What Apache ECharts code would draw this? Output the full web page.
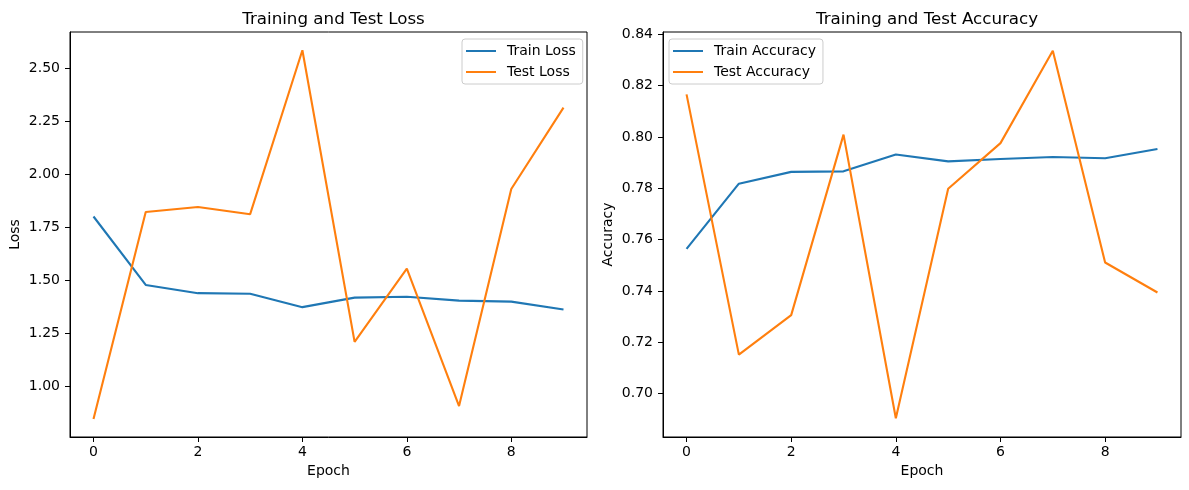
<!DOCTYPE html>
<html>
<head>
<meta charset="utf-8">
<script src="https://cdn.jsdelivr.net/npm/echarts@6/dist/echarts.min.js"></script>
<style>html,body{margin:0;padding:0;background:#fff;}#c{width:1189px;height:490px;}</style>
</head>
<body>
<div id="c"></div>
<script>
const epochs = [0, 1, 2, 3, 4, 5, 6, 7, 8, 9];
const trainLoss = [1.800, 1.477, 1.438, 1.435, 1.372, 1.417, 1.421, 1.403, 1.398, 1.361];
const testLoss = [0.844, 1.821, 1.845, 1.811, 2.585, 1.208, 1.554, 0.905, 1.930, 2.314];
const trainAcc = [0.7564, 0.7818, 0.7864, 0.7866, 0.7932, 0.7905, 0.7914, 0.7922, 0.7917, 0.7953];
const testAcc = [0.8166, 0.7152, 0.7306, 0.8009, 0.6904, 0.7798, 0.7976, 0.8336, 0.7511, 0.7394];
const xTicks = [0, 2, 4, 6, 8];
const lossTicks = [1.00, 1.25, 1.50, 1.75, 2.00, 2.25, 2.50];
const accTicks = [0.70, 0.72, 0.74, 0.76, 0.78, 0.80, 0.82, 0.84];

const FONT = 'DejaVu Sans';
const BLUE = '#1f77b4', ORANGE = '#ff7f0e';
const pairs = (ys) => epochs.map((e, i) => [e, ys[i]]);

function xAxis(gi) {
  return {
    type: 'value', gridIndex: gi, min: -0.45, max: 9.45,
    name: 'Epoch', nameLocation: 'middle', nameGap: 27,
    nameTextStyle: {fontFamily: FONT, fontSize: 14, color: '#000'},
    axisLine: {show: true, onZero: false, lineStyle: {color: '#000', width: 1}},
    axisTick: {show: true, inside: false, length: 5, lineStyle: {color: '#000'}, customValues: xTicks},
    axisLabel: {show: true, margin: 8, fontFamily: FONT, fontSize: 14, color: '#000', customValues: xTicks,
      formatter: v => String(v)},
    splitLine: {show: false}
  };
}
function yAxis(gi, name, min, max, ticks) {
  return {
    type: 'value', gridIndex: gi, min: min, max: max,
    name: name, nameLocation: 'middle', nameGap: 48, nameRotate: 90,
    nameTextStyle: {fontFamily: FONT, fontSize: 14, color: '#000'},
    axisLine: {show: true, onZero: false, lineStyle: {color: '#000', width: 1}},
    axisTick: {show: true, inside: false, length: 5, lineStyle: {color: '#000'}, customValues: ticks},
    axisLabel: {show: true, margin: 10, fontFamily: FONT, fontSize: 14, color: '#000', customValues: ticks,
      formatter: v => v.toFixed(2)},
    splitLine: {show: false}
  };
}
function legend(left, names) {
  return {
    data: names, orient: 'vertical', left: left, top: 39,
    icon: 'rect', itemWidth: 30, itemHeight: 2, itemGap: 7,
    padding: [5, 7, 5, 4],
    backgroundColor: 'rgba(255,255,255,0.8)', borderColor: '#cccccc', borderWidth: 1, borderRadius: 3,
    textStyle: {fontFamily: FONT, fontSize: 14, color: '#000', padding: [0, 0, 0, 6]}
  };
}
function line(name, xi, ys, color) {
  return {
    name: name, type: 'line', xAxisIndex: xi, yAxisIndex: xi, data: pairs(ys),
    showSymbol: false, symbol: 'none', lineStyle: {color: color, width: 2.1}, itemStyle: {color: color},
    emphasis: {disabled: true}
  };
}

const chart = echarts.init(document.getElementById('c'));
chart.setOption({
  animation: false,
  backgroundColor: '#fff',
  title: [
    {text: 'Training and Test Loss', left: 328.5, top: 6, textAlign: 'center',
      textStyle: {fontFamily: FONT, fontSize: 16.7, fontWeight: 'normal', color: '#000'}},
    {text: 'Training and Test Accuracy', left: 922, top: 6, textAlign: 'center',
      textStyle: {fontFamily: FONT, fontSize: 16.7, fontWeight: 'normal', color: '#000'}}
  ],
  grid: [
    {left: 70, top: 32, width: 517, height: 405, show: true, borderColor: '#000', borderWidth: 1, backgroundColor: 'transparent'},
    {left: 663, top: 32, width: 518, height: 405, show: true, borderColor: '#000', borderWidth: 1, backgroundColor: 'transparent'}
  ],
  xAxis: [xAxis(0), xAxis(1)],
  yAxis: [yAxis(0, 'Loss', 0.759, 2.671, lossTicks), yAxis(1, 'Accuracy', 0.6831, 0.8409, accTicks)],
  legend: [legend(462, ['Train Loss', 'Test Loss']), legend(669, ['Train Accuracy', 'Test Accuracy'])],
  series: [
    line('Train Loss', 0, trainLoss, BLUE),
    line('Test Loss', 0, testLoss, ORANGE),
    line('Train Accuracy', 1, trainAcc, BLUE),
    line('Test Accuracy', 1, testAcc, ORANGE)
  ]
});
</script>
</body>
</html>
